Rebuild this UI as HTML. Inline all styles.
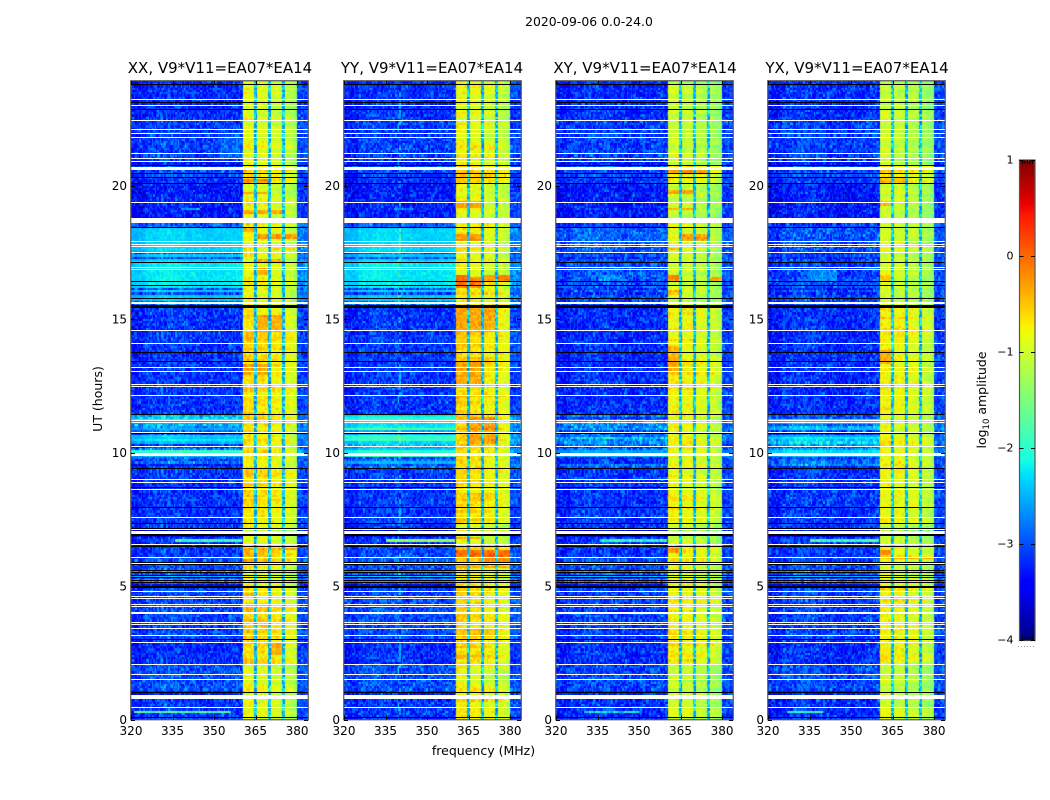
<!DOCTYPE html>
<html lang="en">
<head>
<meta charset="utf-8">
<title>Dynamic spectra 2020-09-06</title>
<style>
html,body{margin:0;padding:0;background:#fff;}
#figure{position:relative;width:1050px;height:800px;overflow:hidden;background:#fff;}
canvas{position:absolute;top:81px;display:block;}
svg{position:absolute;left:0;top:0;}
text{font-family:"DejaVu Sans","Liberation Sans",sans-serif;fill:#000;}
.tick{font-size:12px;}
.title{font-size:15px;text-anchor:middle;}
.label{font-size:12.5px;text-anchor:middle;}
</style>
</head>
<body>
<div id="figure">
<canvas id="heat0" width="177" height="639" style="left:131px"></canvas>
<canvas id="heat1" width="177" height="639" style="left:344px"></canvas>
<canvas id="heat2" width="177" height="639" style="left:556px"></canvas>
<canvas id="heat3" width="177" height="639" style="left:768px"></canvas>
<svg id="overlay" width="1050" height="800" viewBox="0 0 1050 800">
<text x="589" y="26" font-size="12.4" text-anchor="middle">2020-09-06 0.0-24.0</text>
<text class="title" x="220" y="73">XX, V9*V11=EA07*EA14</text>
<text class="title" x="432" y="73">YY, V9*V11=EA07*EA14</text>
<text class="title" x="645" y="73">XY, V9*V11=EA07*EA14</text>
<text class="title" x="857" y="73">YX, V9*V11=EA07*EA14</text>
<text class="label" x="483.5" y="755">frequency (MHz)</text>
<text class="label" transform="translate(102 399) rotate(-90)">UT (hours)</text>
<text class="label" transform="translate(986 400) rotate(-90)">log<tspan font-size="8.5" dy="3">10</tspan><tspan dy="-3"> amplitude</tspan></text>
</svg>
</div>
<script>
// ---- Axis labels and ticks ----
const panelNames = ['xx', 'yy', 'xy', 'yx'];
const freqTicks = [320, 335, 350, 365, 380];
const hourTicks = [0, 5, 10, 15, 20];
const cbarTicks = [1, 0, -1, -2, -3, -4];

// ---- Time segments: start hour of each, with log10 amplitude read per panel ----
const segmentStart = [0.00,0.91,1.05,2.07,3.00,4.91,5.06,5.14,5.22,5.33,5.41,5.51,5.60,5.81,6.07,6.50,6.57,6.87,7.06,7.35,
  9.40,9.55,9.70,9.85,10.05,10.20,10.35,10.50,10.65,10.80,10.95,11.10,11.28,11.43,15.42,15.54,15.70,15.95,16.02,16.10,16.18,
  16.50,17.15,17.28,17.33,17.41,17.48,17.56,17.62,18.00,18.43,18.77,20.08,20.31,20.71,20.91,22.50];
const lowXX = [-3.0,-3.15,-2.85,-3.05,-2.9,-3.4,-2.8,-2.6,-3.0,-2.4,-2.9,-2.6,-2.9,-2.85,-3.0,-3.35,-3.0,-3.4,-3.0,-3.0,
  -2.9,-2.6,-2.8,-2.2,-2.6,-2.8,-2.5,-2.3,-2.7,-2.4,-2.6,-2.3,-2.6,-3.0,-2.95,-2.7,-2.4,-2.9,-2.35,-2.9,-2.25,
  -2.25,-2.4,-2.85,-2.4,-2.9,-2.35,-2.85,-2.35,-2.35,-2.8,-3.15,-3.0,-2.9,-3.2,-2.95,-3.05];
const lowYY = [-3.0,-3.15,-2.85,-3.05,-2.9,-3.4,-2.7,-2.5,-3.0,-2.3,-2.9,-2.5,-2.9,-2.8,-2.9,-3.35,-3.0,-3.4,-3.0,-3.0,
  -2.7,-2.4,-2.7,-2.0,-2.4,-2.6,-2.2,-2.1,-2.5,-2.15,-2.35,-2.15,-2.4,-3.0,-2.95,-2.7,-2.4,-2.9,-2.35,-2.9,-2.25,
  -2.25,-2.4,-2.85,-2.4,-2.9,-2.35,-2.85,-2.35,-2.35,-2.8,-3.15,-3.0,-2.9,-3.2,-2.95,-3.05];
const lowXY = [-3.05,-3.15,-2.9,-3.05,-2.95,-3.4,-2.8,-2.6,-3.0,-2.4,-2.9,-2.6,-2.9,-2.9,-3.0,-3.35,-3.0,-3.4,-3.0,-3.0,
  -2.9,-2.9,-2.9,-2.5,-2.8,-2.9,-2.7,-2.6,-2.8,-2.6,-2.7,-2.6,-2.8,-3.05,-3.0,-2.9,-2.9,-3.1,-2.85,-3.1,-2.85,
  -2.85,-2.8,-3.1,-2.85,-3.1,-2.85,-3.05,-2.8,-2.75,-3.0,-3.15,-3.0,-2.9,-3.2,-2.95,-3.05];
const lowYX = [-3.05,-3.15,-2.9,-3.05,-2.95,-3.4,-2.8,-2.6,-3.0,-2.4,-2.9,-2.6,-2.9,-2.9,-3.0,-3.35,-3.0,-3.4,-3.0,-3.0,
  -2.9,-2.8,-2.9,-2.4,-2.6,-2.8,-2.6,-2.4,-2.7,-2.3,-2.6,-2.4,-2.7,-3.05,-3.0,-2.9,-2.9,-3.1,-2.85,-3.1,-2.85,
  -2.95,-2.9,-3.1,-2.9,-3.1,-2.9,-3.05,-2.85,-2.85,-3.0,-3.15,-3.0,-2.9,-3.2,-2.95,-3.05];
const highLevel = [-0.85,-0.85,-0.9,-0.65,-0.65,-0.7,-0.85,-0.8,-0.95,-0.85,-0.9,-1.0,-0.75,-0.55,-0.6,-0.85,-0.85,-1.0,-0.95,-0.7,
  -0.7,-0.7,-0.7,-0.7,-0.7,-0.7,-0.7,-0.7,-0.7,-0.7,-0.7,-0.7,-0.7,-0.65,-0.65,-0.85,-0.85,-0.85,-0.85,-0.85,-0.85,
  -0.85,-0.85,-0.85,-0.85,-0.85,-0.85,-0.85,-0.85,-0.85,-0.85,-0.9,-0.6,-0.6,-0.9,-0.9,-0.95];

// ---- Frequency structure (MHz and log10 amplitude) ----
const subbandStart = [360.6, 365.6, 370.6, 375.7];
const subbandEnd = [364.7, 369.7, 374.7, 379.9];
const subbandOffset = [0.05, 0, -0.05, -0.1];
const subbandSlope = [0, 0, -0.1, -0.3];
const panelHighOffset = [0, 0.05, -0.15, -0.15];
const notchLevel = -2.4;
const darkBias = -0.15;
const lowProfile = [-0.12, 0.03, 0.08, 0.05, 0, -0.03, 0, 0.03, 0.1];
const verticalRfi = [[], [340], [], []];
const stripedSpan = [9.4, 11.43];

// ---- Bright patches: hour start, hour end, MHz start, MHz end, level ----
const patchesXX = [[0.25,0.33,321,356,-1.8],[6.66,6.78,336,360,-1.9],[20.12,20.26,360.6,370,-0.2],[19.68,19.78,360.6,370,-0.2],[18.95,19.05,360.6,375,-0.4],
  [18.02,18.18,365.6,380,-0.25],[18.28,18.4,360.6,365,-0.45],[17.55,17.65,360.6,365,-0.5],[17.55,17.65,370.6,380,-0.5],[17.12,17.28,365.6,375,-0.3],[16.7,16.9,365.6,370,-0.3],
  [6.3,6.4,360.6,380,-0.4],[5.9,6.02,360.6,365,-0.3],[4.55,4.75,360.6,365,-0.35],[3.5,3.6,365.6,370,-0.35],[2.4,2.9,370.6,375,-0.35],[12.9,13.3,360.6,370,-0.35],[14.5,15.2,365.6,375,-0.35],[19.05,19.2,338,345,-2.7],[21.0,21.9,352,360,-2.9]];
const patchesYY = [[6.66,6.78,335,360,-1.3],[6.1,6.3,360.6,380,-0.1],[6.72,6.85,360.6,370,-0.4],[5.95,6.05,370.6,380,-0.2],[5.65,5.78,360.6,380,-0.3],
  [19.2,19.4,360.6,370,-0.3],[17.95,18.2,360.6,370,-0.25],[16.2,16.7,360.6,365,-0.05],[16.2,16.6,365.6,370,-0.2],[16.4,16.7,370.6,375,-0.3],[16.45,16.7,375.7,380,-0.15],
  [14.5,15.4,360.6,375,-0.35],[12.6,13.4,360.6,370,-0.35],[10.3,11.3,365.6,375,-0.35],[19.05,19.2,338,345,-2.7]];
const patchesXY = [[6.66,6.78,336,360,-2.0],[6.25,6.4,360.6,365,-0.25],[20.38,20.55,360.6,375,-0.3],[19.68,19.85,360.6,370,-0.35],[19.1,19.2,360.6,370,-0.4],
  [17.95,18.15,365.6,375,-0.35],[16.4,16.7,360.6,365,-0.2],[16.4,16.6,375.7,380,-0.4],[17.55,17.65,360.6,365,-0.5],[15.9,16.1,360.6,365,-0.45],[16.4,16.7,335,345,-2.65],[13,14,360.6,365,-0.4],[0.25,0.3,330,350,-2.2]];
const patchesYX = [[6.66,6.78,335,360,-1.9],[6.15,6.35,360.6,365,-0.15],[6.0,6.08,365.6,380,-0.35],[20.1,20.3,360.6,370,-0.5],[19.25,19.4,360.6,365,-0.5],[16.45,16.7,360.6,365,-0.5],
  [16.4,16.8,335,345,-2.7],[13.3,13.8,360.6,365,-0.35],[0.28,0.33,327,340,-2.0]];

// ---- Flagged integrations (UT hours) ----
const whiteLines = [23.23,23.01,22.45,22.10,21.96,21.83,21.21,21.02,20.91,19.39,17.93,17.81,17.73,17.50,16.94,16.86,15.65,15.59,14.58,14.09,13.19,13.04,12.55,12.50,12.16,11.22,11.14,10.77,10.25,9.02,8.88,8.62,7.57,7.12,6.57,6.07,5.85,4.82,4.61,4.54,4.31,4.25,4.04,3.98,3.64,3.58,3.42,3.16,2.89,2.07,1.70,1.53,0.46];
const whiteBandStart = [20.58, 18.58, 9.88, 6.94, 0.76];
const whiteBandEnd = [20.71, 18.77, 9.97, 7.06, 0.91];
const blackLines = [23.79,23.14,22.85,20.77,20.46,20.31,20.08,18.43,17.15,16.42,16.26,15.80,13.75,13.42,11.43,10.74,9.41,8.70,7.97,7.35,7.18,6.50,5.91,5.81,5.60,5.51,5.41,5.33,5.22,5.14,3.00,1.04,0.10];
const blackBandStart = [15.42, 6.87, 4.91];
const blackBandEnd = [15.54, 6.93, 5.00];

// Fixed grain table for the noise texture (noise cells cannot be read individually).
const grain = [-.31,.12,-.08,.44,-.22,.05,-.37,.18,.29,-.15,-.02,.33,-.41,.09,-.27,.21,.02,-.12,.52,-.34,.07,-.19,.26,-.05,.15,-.29,.38,-.09,.01,-.36,.24,.11,-.23,.47,-.16,-.03,.31,-.39,.14,-.07,.2,-.26,.04,.36,-.13,-.33,.17,.28,-.1,-.21,.41,-.01,-.3,.08,.23,-.17,.6,-.25,.03,-.11,.13];

const panelLeft = [131, 344, 556, 768];
const lowByPanel = [lowXX, lowYY, lowXY, lowYX];
const patchesByPanel = [patchesXX, patchesYY, patchesXY, patchesYX];

const PANEL_W = 177, PLOT_TOP = 81, PLOT_BOTTOM = 719.5;
const PX_PER_MHZ = 2.767, PX_PER_HOUR = 26.7;
const xPos = f => (f - 320) * PX_PER_MHZ;
const yPos = h => PLOT_BOTTOM - h * PX_PER_HOUR;
const cbarY = v => 160 + (1 - v) * 96;

function ramp(t, pts) {
  for (let i = 1; i < pts.length; i++) {
    if (t <= pts[i][0]) {
      const a = pts[i - 1], b = pts[i];
      return a[1] + (b[1] - a[1]) * (t - a[0]) / (b[0] - a[0]);
    }
  }
  return pts[pts.length - 1][1];
}
function jet(v) {
  const t = Math.max(0, Math.min(1, (v + 4) / 5));
  const r = ramp(t, [[0,0],[.35,0],[.66,1],[.89,1],[1,.5]]);
  const g = ramp(t, [[0,0],[.125,0],[.375,1],[.64,1],[.91,0],[1,0]]);
  const b = ramp(t, [[0,.5],[.11,1],[.34,1],[.65,0],[1,0]]);
  return 'rgb(' + Math.round(r*255) + ',' + Math.round(g*255) + ',' + Math.round(b*255) + ')';
}
function segmentIndex(h) {
  let i = 0;
  while (i + 1 < segmentStart.length && segmentStart[i + 1] <= h) i++;
  return i;
}
function cellLevel(p, f, h, row, col) {
  const seg = segmentIndex(h);
  const low = lowByPanel[p][seg];
  const n = grain[(col*col*7 + row*row*11 + col*row*3 + col*5 + row*13 + p*17) % grain.length];
  const rowN = grain[(row*29 + p*7) % grain.length];
  let level, scale, isHigh = false, isNotch = false;
  if (f < subbandStart[0]) {
    const bin = Math.min(lowProfile.length - 1, Math.floor((f - 320) / 5));
    level = low + lowProfile[bin] + (low < -2.6 ? darkBias : 0);
    scale = low > -2.6 ? 0.3 : 1;
    if (h >= stripedSpan[0] && h < stripedSpan[1]) level += rowN * 0.7;
    if (verticalRfi[p].some(c => Math.abs(c - f) < 0.3) && n > 0) level += 0.4;
  } else if (f >= subbandEnd[3]) {
    level = -3.05 + (low + 3) * 0.5;
    scale = 0.8;
  } else {
    level = notchLevel;
    scale = 1;
    isNotch = true;
    for (let s = 0; s < 4; s++) {
      if (f >= subbandStart[s] && f < subbandEnd[s]) {
        const frac = (f - subbandStart[s]) / (subbandEnd[s] - subbandStart[s]);
        level = highLevel[seg] + subbandOffset[s] + subbandSlope[s] * frac + panelHighOffset[p] + rowN * 0.35;
        scale = 0.5;
        isHigh = true;
        isNotch = false;
      }
    }
  }
  if (!isNotch) {
    for (const q of patchesByPanel[p]) {
      if (h >= q[0] && h < q[1] && f >= q[2] && f < q[3]) {
        level = q[4] + (isHigh ? rowN * 0.2 : 0);
        scale = isHigh ? 0.45 : 0.8;
      }
    }
  }
  return level + n * scale;
}
function drawHeatmap(p) {
  const ctx = document.getElementById('heat' + p).getContext('2d');
  const dF = 0.5, dH = 1 / 12;
  for (let row = 0; row < 288; row++) {
    const h = row * dH;
    const y0 = Math.round(yPos(h + dH) - PLOT_TOP), y1 = Math.round(yPos(h) - PLOT_TOP);
    if (y1 <= 0) continue;
    for (let col = 0; col < 128; col++) {
      const f = 320 + col * dF;
      const x0 = Math.round(xPos(f)), x1 = Math.round(xPos(f + dF));
      ctx.fillStyle = jet(cellLevel(p, f + dF / 2, h + dH / 2, row, col));
      ctx.fillRect(x0, y0, x1 - x0, y1 - y0);
    }
  }
}

const NS = 'http://www.w3.org/2000/svg';
const overlay = document.getElementById('overlay');
function svgEl(tag, attrs, parent) {
  const el = document.createElementNS(NS, tag);
  for (const k in attrs) el.setAttribute(k, attrs[k]);
  (parent || overlay).appendChild(el);
  return el;
}
function drawFlags(p, g) {
  const L = panelLeft[p];
  for (const h of whiteLines) {
    const el = svgEl('rect', {x: L, y: Math.round(yPos(h)), width: PANEL_W, height: 1, fill: '#fff'}, g);
    
    
  }
  whiteBandStart.forEach((h, i) => {
    const top = Math.round(yPos(whiteBandEnd[i]));
    const el = svgEl('rect', {x: L, y: top, width: PANEL_W, height: Math.round(yPos(h)) - top, fill: '#fff'}, g);
    
    
  });
  for (const h of blackLines) {
    const el = svgEl('rect', {x: L, y: Math.round(yPos(h)), width: PANEL_W, height: 1, fill: '#000'}, g);
    
    
  }
  blackBandStart.forEach((h, i) => {
    const top = Math.round(yPos(blackBandEnd[i]));
    const el = svgEl('rect', {x: L, y: top, width: PANEL_W, height: Math.round(yPos(h)) - top, fill: '#000'}, g);
    
    
  });
}
function drawAxes(p, g) {
  const L = panelLeft[p];
  const frame = svgEl('rect', {x: L - 0.25, y: PLOT_TOP - 0.25, width: PANEL_W + 0.5, height: PLOT_BOTTOM - PLOT_TOP + 0.5, fill: 'none', stroke: '#555', 'stroke-width': 1.2}, g);
  
  
  for (const f of freqTicks) {
    const x = Math.round(L + xPos(f)) + 0.5;
    for (const seg of [[PLOT_BOTTOM, PLOT_BOTTOM - 4], [PLOT_TOP, PLOT_TOP + 4]]) {
      const t = svgEl('line', {x1: x, x2: x, y1: seg[0], y2: seg[1], stroke: '#000', 'stroke-width': 1}, g);
      
      
    }
    const lab = svgEl('text', {x: L + xPos(f), y: 735, class: 'tick', 'text-anchor': 'middle'}, g);
    
    
    lab.textContent = f;
  }
  for (const h of hourTicks) {
    const y = Math.round(yPos(h)) + 0.5;
    for (const seg of [[L, L + 4], [L + PANEL_W, L + PANEL_W - 4]]) {
      const t = svgEl('line', {x1: seg[0], x2: seg[1], y1: y, y2: y, stroke: '#000', 'stroke-width': 1}, g);
      
      
    }
    const lab = svgEl('text', {x: L - 4, y: yPos(h) + 4.5, class: 'tick', 'text-anchor': 'end'}, g);
    
    
    lab.textContent = h;
  }
}
function drawColorbar() {
  const g = svgEl('g', {});
  
  
  const dv = 5 / 240;
  for (let i = 0; i < 240; i++) {
    const v = -4 + i * dv;
    const top = cbarY(v + dv);
    const r = svgEl('rect', {x: 1019.5, y: top, width: 15.5, height: cbarY(v) - top + 0.5, fill: jet(v + dv / 2)}, g);
    
    
  }
  const frame = svgEl('rect', {x: 1019.5, y: 160, width: 15.5, height: 480.5, fill: 'none', stroke: '#555', 'stroke-width': 1.2}, g);
  
  
  for (const v of cbarTicks) {
    const y = Math.round(cbarY(v)) + 0.5;
    for (const seg of [[1019.5, 1023.5], [1031, 1035]]) {
      const t = svgEl('line', {x1: seg[0], x2: seg[1], y1: y, y2: y, stroke: '#000', 'stroke-width': 1}, g);
      
      
    }
    const lab = svgEl('text', {x: 1013.5, y: cbarY(v) + 3.5, 'font-size': 11, 'text-anchor': 'end'}, g);
    
    
    lab.textContent = String(v).replace('-', '\u2212');
  }
  for (let i = 0; i < 5; i++) {
    const x = 1022 + i * 2.5 + 0.5;
    for (const seg of [[160, 164], [636.5, 640.5]]) {
      const t = svgEl('line', {x1: x, x2: x, y1: seg[0], y2: seg[1], stroke: '#000', 'stroke-width': 1}, g);
      
      
    }
  }
  const dots = svgEl('line', {x1: 1018, x2: 1035, y1: 646.5, y2: 646.5, stroke: '#999', 'stroke-width': 1, 'stroke-dasharray': '1 2'}, g);
  
  
}

panelNames.forEach((name, p) => {
  drawHeatmap(p);
  const g = svgEl('g', {});
  
  
  drawFlags(p, g);
  drawAxes(p, g);
});
drawColorbar();
</script>
</body>
</html>
